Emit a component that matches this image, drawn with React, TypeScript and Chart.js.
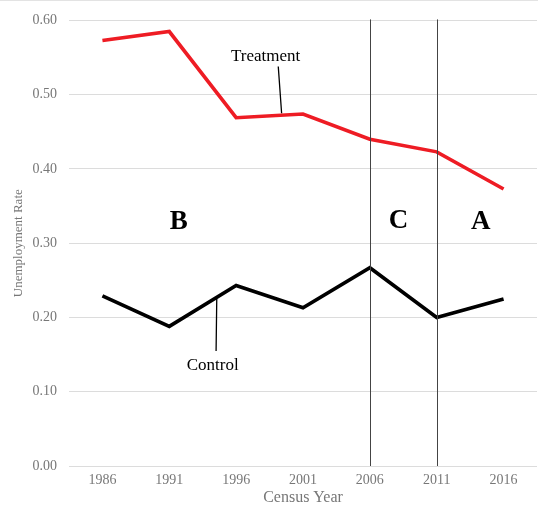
import React, { useEffect, useRef } from "react";
import { Chart, registerables } from "chart.js";

Chart.register(...registerables);

const years = ["1986", "1991", "1996", "2001", "2006", "2011", "2016"];
const treatment = [0.573, 0.585, 0.469, 0.474, 0.44, 0.423, 0.373];
const control = [0.229, 0.188, 0.243, 0.213, 0.267, 0.2, 0.225];
const yTicks = [0, 0.1, 0.2, 0.3, 0.4, 0.5, 0.6];
const periodLines = ["2006", "2011"];
const periodLabels = ["B", "C", "A"];

const SERIF = "'Liberation Serif', 'Times New Roman', serif";

const overlayPlugin = {
  id: "overlay",
  afterDatasetsDraw(chart: any) {
    const ctx = chart.ctx;
    const x = chart.scales.x;
    const y = chart.scales.y;
    const area = chart.chartArea;
    const xi = (i: number) => x.getPixelForValue(0) + i * (x.getPixelForValue(1) - x.getPixelForValue(0));
    ctx.save();
    // top border
    ctx.strokeStyle = "#e3e3e3";
    ctx.lineWidth = 1;
    ctx.beginPath();
    ctx.moveTo(0, 0.5);
    ctx.lineTo(chart.width, 0.5);
    ctx.stroke();
    // period lines
    ctx.strokeStyle = "#444";
    ctx.lineWidth = 1;
    periodLines.forEach((yr) => {
      const px = Math.round(x.getPixelForValue(years.indexOf(yr))) + 0.5;
      ctx.beginPath();
      ctx.moveTo(px, area.top - 1);
      ctx.lineTo(px, area.bottom);
      ctx.stroke();
    });
    // period letters
    ctx.fillStyle = "#000";
    ctx.font = `bold 27px ${SERIF}`;
    ctx.textAlign = "center";
    ctx.textBaseline = "middle";
    const letterPos = [1.14, 4.43, 5.66];
    const letterVal = [0.328, 0.33, 0.328];
    periodLabels.forEach((t, i) => {
      ctx.fillText(t, xi(letterPos[i]), y.getPixelForValue(letterVal[i]));
    });
    // series annotations
    ctx.font = `17px ${SERIF}`;
    ctx.fillText("Treatment", xi(2.44), y.getPixelForValue(0.551));
    ctx.fillText("Control", xi(1.65), y.getPixelForValue(0.135));
    ctx.strokeStyle = "#000";
    ctx.lineWidth = 1.3;
    ctx.beginPath();
    ctx.moveTo(xi(2.63), y.getPixelForValue(0.538));
    ctx.lineTo(xi(2.68), y.getPixelForValue(0.475));
    ctx.moveTo(xi(1.71), y.getPixelForValue(0.225));
    ctx.lineTo(xi(1.7), y.getPixelForValue(0.155));
    ctx.stroke();
    ctx.restore();
  },
};

export default function App() {
  const ref = useRef<HTMLCanvasElement>(null);
  useEffect(() => {
    document.body.style.margin = "0";
    const chart = new Chart(ref.current!, {
      type: "line",
      data: {
        labels: years,
        datasets: [
          {
            label: "Treatment",
            data: treatment,
            borderColor: "#ee1c24",
            borderWidth: 3.6,
            pointRadius: 0,
            tension: 0,
            borderJoinStyle: "miter",
          },
          {
            label: "Control",
            data: control,
            borderColor: "#000000",
            borderWidth: 3.6,
            pointRadius: 0,
            tension: 0,
            borderJoinStyle: "miter",
          },
        ],
      },
      options: {
        animation: false,
        responsive: false,
        devicePixelRatio: 1,
        layout: { padding: { top: 16, right: 1, left: 0, bottom: 0 } },
        plugins: { legend: { display: false }, tooltip: { enabled: false } },
        scales: {
          x: {
            offset: true,
            grid: { display: false, drawTicks: false },
            border: { display: false },
            ticks: { color: "#777777", font: { family: SERIF, size: 14 }, padding: 6 },
            title: {
              display: true,
              text: "Census Year",
              color: "#777777",
              font: { family: SERIF, size: 16 },
              padding: { top: 0, bottom: 3 },
            },
            afterFit: (s: any) => {
              s.height = 44;
            },
          },
          y: {
            min: 0,
            max: 0.6,
            afterBuildTicks: (s: any) => {
              s.ticks = yTicks.map((v) => ({ value: v }));
            },
            grid: { color: "#dcdcdc", lineWidth: 1, drawTicks: false },
            border: { display: false },
            ticks: {
              color: "#777777",
              font: { family: SERIF, size: 14 },
              padding: 12,
              callback: (v: any) => Number(v).toFixed(2),
            },
            title: {
              display: true,
              text: "Unemployment Rate",
              color: "#777777",
              font: { family: SERIF, size: 13 },
              padding: { top: 11, bottom: 0 },
            },
            afterFit: (s: any) => {
              s.width = 69;
            },
          },
        },
      },
      plugins: [overlayPlugin],
    } as any);
    return () => chart.destroy();
  }, []);
  return <canvas ref={ref} width={538} height={510} style={{ display: "block" }} />;
}
